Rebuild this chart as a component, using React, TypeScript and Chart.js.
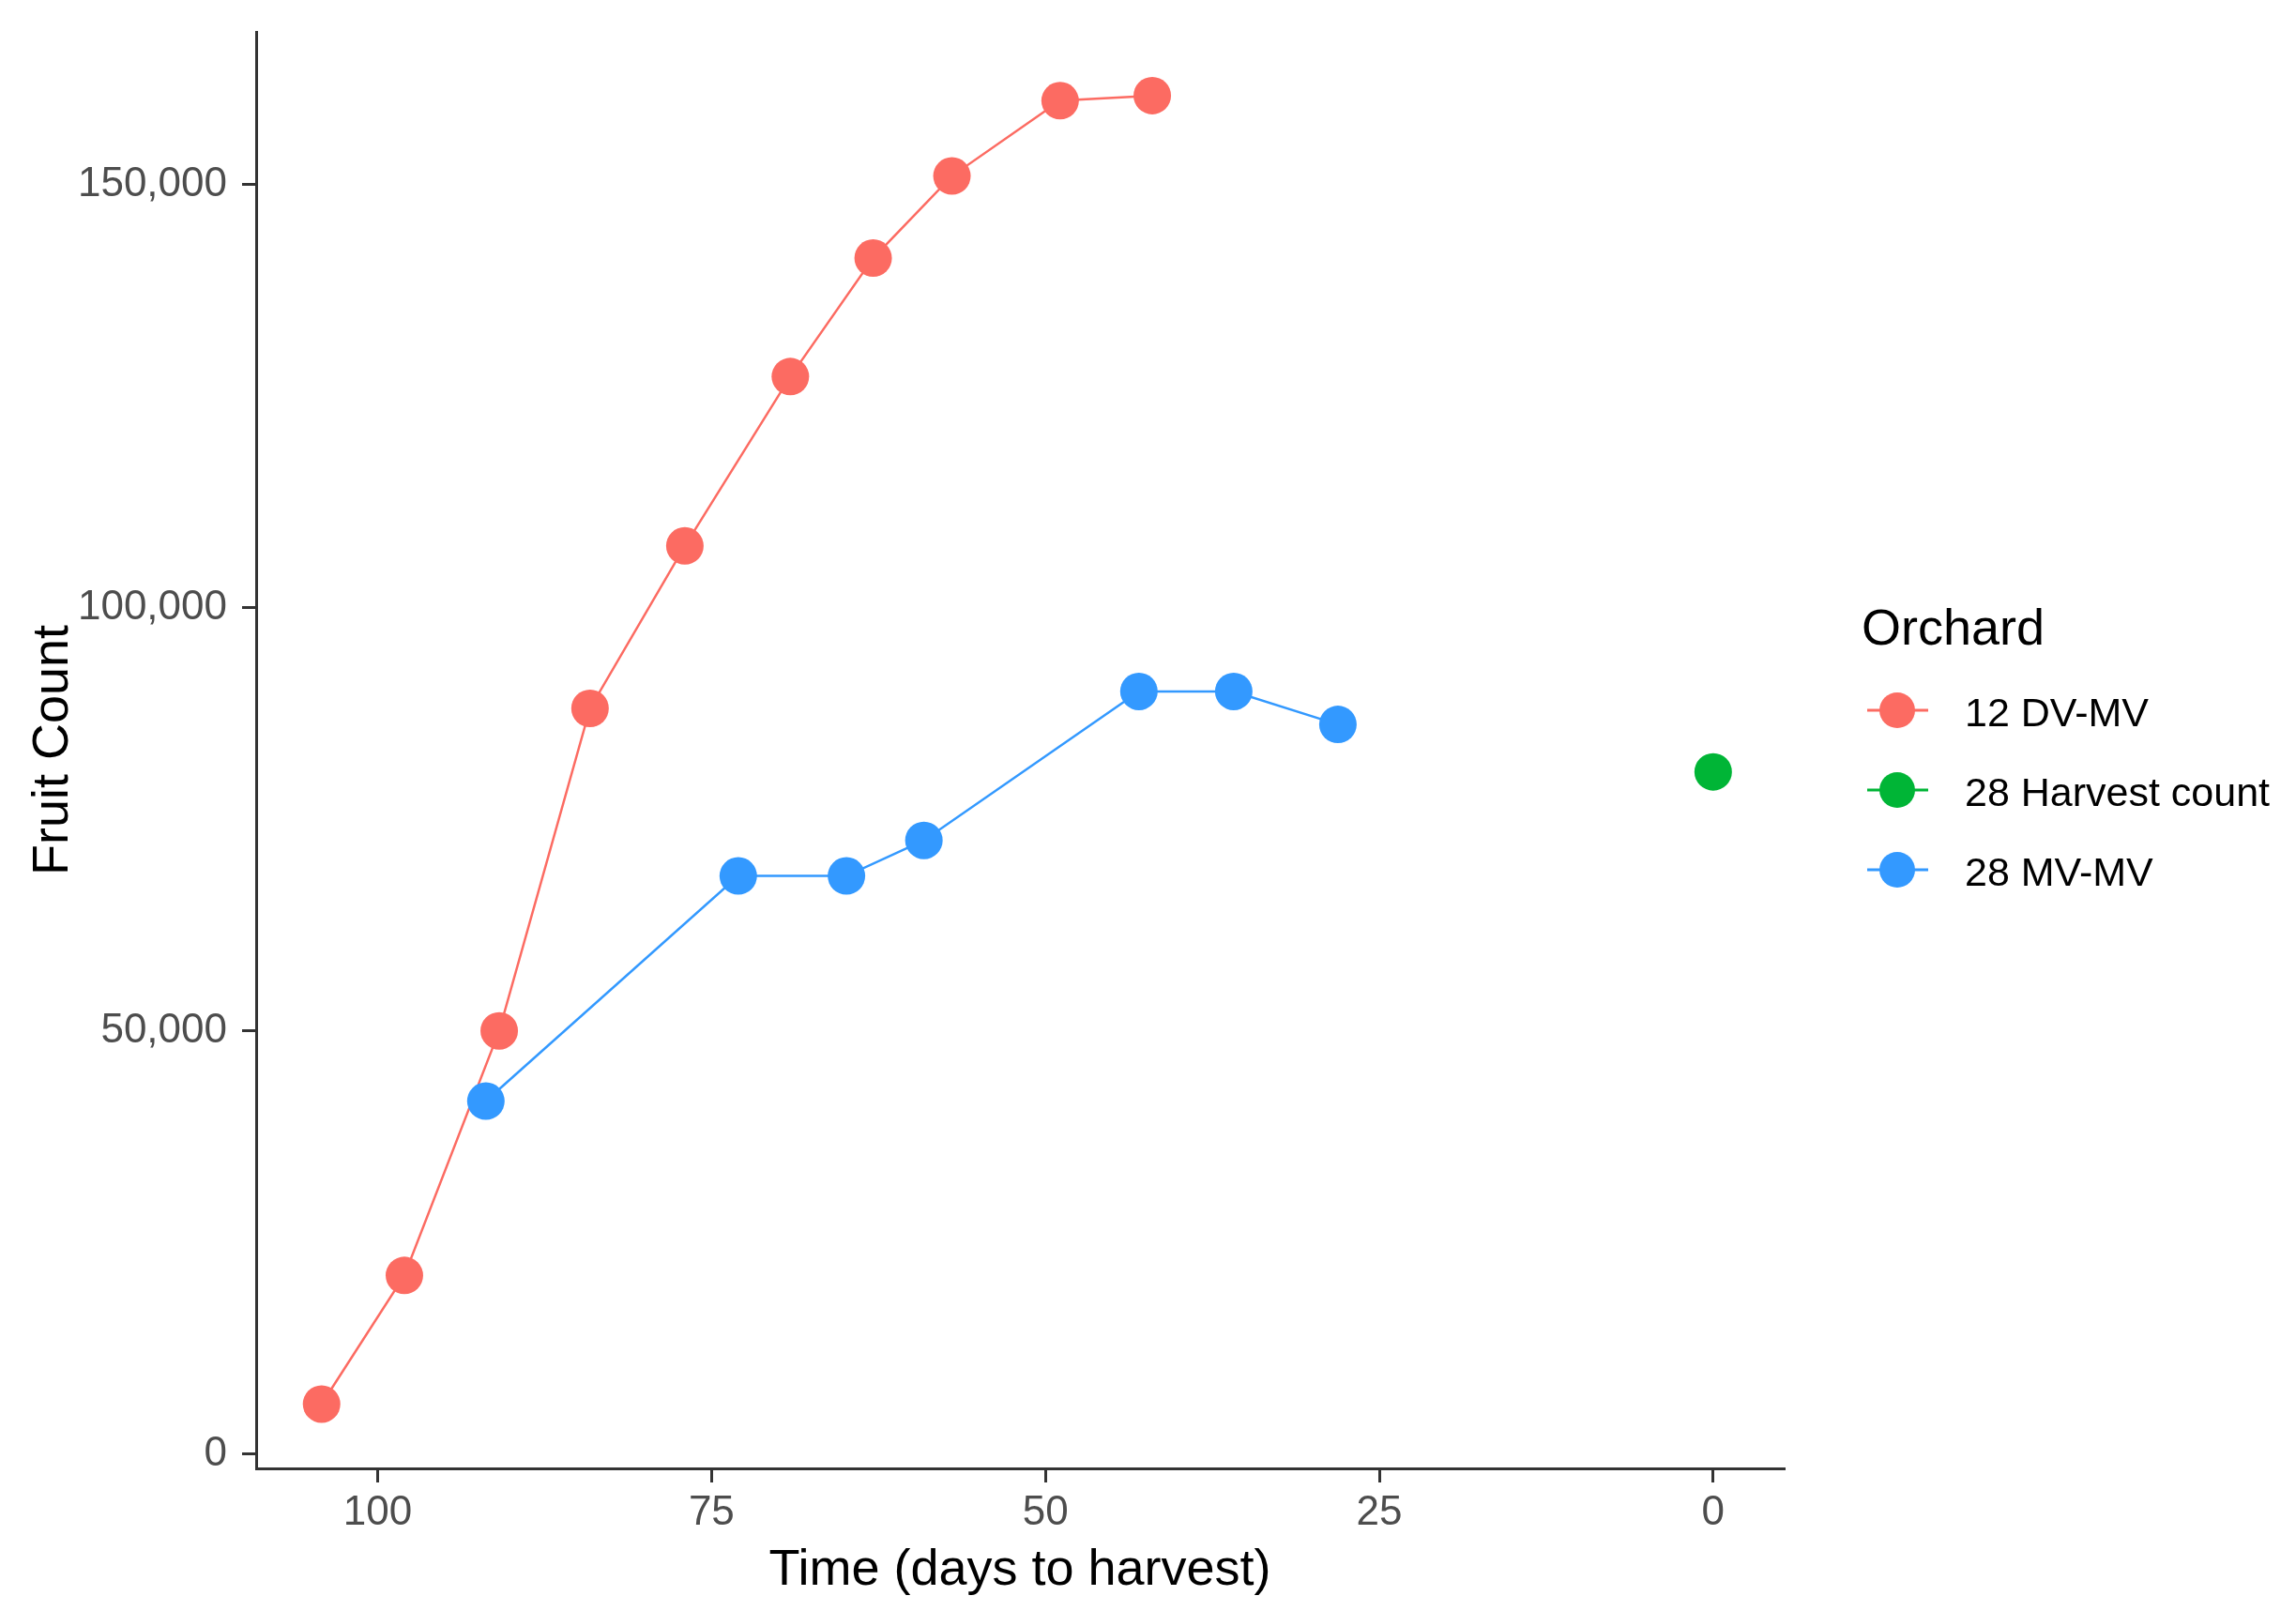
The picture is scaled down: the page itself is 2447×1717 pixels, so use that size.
import React, { useEffect, useRef } from "react";
import { Chart, registerables } from "chart.js";

Chart.register(...registerables);

// ---- Data ----
const seriesNames = ["12 DV-MV", "28 Harvest count", "28 MV-MV"];
const seriesColors = ["#FC6B62", "#00B536", "#3399FF"];

const dvmvDays = [104.2, 98.0, 90.9, 84.1, 77.0, 69.1, 62.9, 57.0, 48.9, 42.0];
const dvmvCounts = [5900, 21100, 50000, 88100, 107300, 127300, 141300, 151000, 159900, 160500];

const harvestDays = [0];
const harvestCounts = [80600];

const mvmvDays = [91.9, 73.0, 64.9, 59.1, 43.0, 35.9, 28.1];
const mvmvCounts = [41700, 68300, 68300, 72500, 90100, 90100, 86200];

const xTicks = [100, 75, 50, 25, 0];
const yTicks = [0, 50000, 100000, 150000];

const legendTitle = "Orchard";
const xTitle = "Time (days to harvest)";
const yTitle = "Fruit Count";

const W = 2447;
const H = 1717;
const FONT = "'Liberation Sans', Arial, sans-serif";

function pts(xs: number[], ys: number[]) {
  return xs.map((x, i) => ({ x, y: ys[i] }));
}

const legendPlugin = {
  id: "ggLegend",
  afterDraw(chart: any) {
    const ctx = chart.ctx as CanvasRenderingContext2D;
    ctx.save();
    ctx.fillStyle = "#000000";
    ctx.font = `54px ${FONT}`;
    ctx.textAlign = "left";
    ctx.textBaseline = "alphabetic";
    ctx.fillText(legendTitle, 1984, 687);
    const ys = [757, 842, 927];
    chart.data.datasets.forEach((ds: any, i: number) => {
      const cy = ys[i];
      const color = ds.borderColor as string;
      ctx.strokeStyle = color;
      ctx.lineWidth = 3;
      ctx.beginPath();
      ctx.moveTo(1990, cy);
      ctx.lineTo(2055, cy);
      ctx.stroke();
      ctx.fillStyle = color;
      ctx.beginPath();
      ctx.arc(2022, cy, 19, 0, Math.PI * 2);
      ctx.fill();
      ctx.fillStyle = "#000000";
      ctx.font = `43px ${FONT}`;
      ctx.fillText(ds.label, 2094, cy + 17);
    });
    ctx.restore();
  },
};

export default function App() {
  const ref = useRef<HTMLCanvasElement | null>(null);

  useEffect(() => {
    document.body.style.margin = "0";
    const canvas = ref.current;
    if (!canvas) return;
    const common = {
      borderWidth: 2.5,
      pointRadius: 20,
      pointBorderWidth: 0,
      pointHoverRadius: 20,
    };
    const chart = new Chart(canvas, {
      type: "line",
      data: {
        datasets: [
          {
            label: seriesNames[0],
            data: pts(dvmvDays, dvmvCounts),
            borderColor: seriesColors[0],
            backgroundColor: seriesColors[0],
            ...common,
            order: 2,
          },
          {
            label: seriesNames[1],
            data: pts(harvestDays, harvestCounts),
            borderColor: seriesColors[1],
            backgroundColor: seriesColors[1],
            ...common,
            showLine: false,
            order: 1,
          },
          {
            label: seriesNames[2],
            data: pts(mvmvDays, mvmvCounts),
            borderColor: seriesColors[2],
            backgroundColor: seriesColors[2],
            ...common,
            order: 0,
          },
        ],
      },
      options: {
        responsive: false,
        devicePixelRatio: 1,
        animation: false,
        layout: { padding: { top: 34, right: W - 1901, bottom: 0, left: 0 } },
        plugins: {
          legend: { display: false },
          tooltip: { enabled: false },
        },
        scales: {
          x: {
            type: "linear",
            reverse: true,
            min: -5.28,
            max: 109.1,
            afterBuildTicks: (scale: any) => {
              scale.ticks = xTicks.map((v) => ({ value: v }));
            },
            afterFit: (scale: any) => {
              scale.height = H - 1565;
              scale.paddingLeft = 0;
              scale.paddingRight = 0;
            },
            grid: {
              drawOnChartArea: false,
              drawTicks: true,
              tickLength: 15,
              color: "#333333",
              lineWidth: 3,
            },
            border: { display: true, color: "#333333", width: 3 },
            ticks: {
              color: "#4D4D4D",
              font: { family: FONT, size: 44 },
              padding: 6,
              maxRotation: 0,
              autoSkip: false,
              callback: (v: any) => String(v),
            },
            title: {
              display: true,
              text: xTitle,
              color: "#000000",
              font: { family: FONT, size: 54 },
              padding: { top: 0, bottom: 10 },
            },
          },
          y: {
            type: "linear",
            min: -1696,
            max: 168026,
            afterBuildTicks: (scale: any) => {
              scale.ticks = yTicks.map((v) => ({ value: v }));
            },
            afterFit: (scale: any) => {
              scale.width = 273;
              scale.paddingTop = 0;
              scale.paddingBottom = 0;
            },
            grid: {
              drawOnChartArea: false,
              drawTicks: true,
              tickLength: 15,
              color: "#333333",
              lineWidth: 3,
            },
            border: { display: true, color: "#333333", width: 3 },
            ticks: {
              color: "#4D4D4D",
              font: { family: FONT, size: 44 },
              padding: 16,
              autoSkip: false,
              callback: (v: any) => Number(v).toLocaleString("en-US"),
            },
            title: {
              display: true,
              text: yTitle,
              color: "#000000",
              font: { family: FONT, size: 54 },
              padding: { top: 25, bottom: 0 },
            },
          },
        },
      },
      plugins: [legendPlugin],
    });
    return () => chart.destroy();
  }, []);

  return (
    <div style={{ position: "absolute", left: 0, top: 0, width: W, height: H, background: "#ffffff" }}>
      <canvas ref={ref} width={W} height={H} style={{ display: "block" }} />
    </div>
  );
}
